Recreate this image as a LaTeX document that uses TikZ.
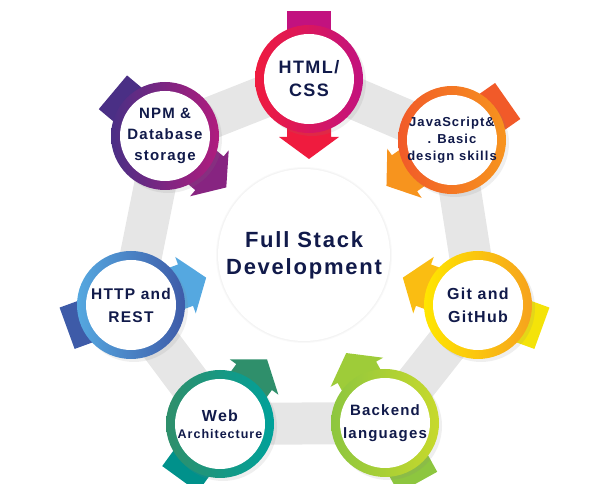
\documentclass[tikz,border=0pt]{standalone}
\usepackage{fontspec}
\setmainfont{Liberation Sans}[LetterSpace=8]
\usepackage{tikz}
\usetikzlibrary{shadows}
\definecolor{navy}{HTML}{111A4A}
\definecolor{band}{HTML}{E6E6E6}
\definecolor{htmlA}{HTML}{EF1B3E}\definecolor{htmlB}{HTML}{C2127F}
\definecolor{jsA}{HTML}{F15A29}\definecolor{jsB}{HTML}{F7941E}
\definecolor{gitA}{HTML}{FFE600}\definecolor{gitB}{HTML}{F6A21E}
\definecolor{backA}{HTML}{8DC63F}\definecolor{backB}{HTML}{C7D92C}
\definecolor{webA}{HTML}{2F8F6B}\definecolor{webB}{HTML}{00A19A}
\definecolor{httpA}{HTML}{55A8E0}\definecolor{httpB}{HTML}{3E5BA8}
\definecolor{npmA}{HTML}{4A2F85}\definecolor{npmB}{HTML}{B01C7E}

\begin{document}
\begin{tikzpicture}[x=1pt, y=1pt,
    sat/.style={circle, minimum size=108pt, inner sep=0pt, align=center, text=navy,
        drop shadow={opacity=0.13, shadow xshift=3pt, shadow yshift=-3pt},
        path picture={\fill[white] (path picture bounding box.center) circle (45pt);}},
    hub/.style={circle, minimum size=172pt, inner sep=0pt, fill=white, align=center, text=navy,
        font=\bfseries\fontsize{22}{27}\selectfont}]
    \useasboundingbox (0,0) rectangle (616,484);
    % positions
    \coordinate (html) at (309,405);
    \coordinate (js) at (452,344);
    \coordinate (git) at (478,179);
    \coordinate (back) at (385,61);
    \coordinate (web) at (220,60);
    \coordinate (http) at (131,179);
    \coordinate (npm) at (165,348);
    \coordinate (mid) at (304,229);
    % grey ring
    \draw[band, line width=42pt, line join=round] (html) -- (js) -- (git) -- (back) -- (web) -- (http) -- (npm) -- cycle;
    % arrows
    \foreach \p/\a/\tl/\hd in {html/270/htmlB/htmlA, js/215/jsA/jsB, git/160/gitA!80!backB/gitB!60!gitA,
        back/119/backA/backA!70!backB, web/54/webB!90!black/webA, http/20/httpB/httpA, npm/-40/npmA/npmB!60!npmA}{
        \begin{scope}[shift={(\p)}, rotate=\a]
            \fill[\tl] (-68,-22) rectangle (0,22);
            \fill[\hd] (0,-22) -- (58,-22) -- (58,-30) -- (80,0) -- (58,30) -- (58,22) -- (0,22) -- cycle;
        \end{scope}
    }
    % soft shadow of the hub
    \foreach \k in {1,...,12}
        \fill[black, opacity=0.022, shift={(5,-6)}] (mid) circle ({76+\k});
    % circles
    \node[hub] (fsd) at (mid) {Full Stack\\Development};
    \node[sat, left color=htmlA, right color=htmlB, font=\bfseries\fontsize{18}{23}\selectfont] (htmlC) at (html) {HTML/\\CSS};
    \node[sat, left color=jsA, right color=jsB, font=\bfseries\fontsize{13}{17}\selectfont] (jsC) at (js) {JavaScript\&\\. Basic\\design skills};
    \node[sat, left color=gitA, right color=gitB, font=\bfseries\fontsize{16}{23}\selectfont] (gitC) at (git) {Git and\\GitHub};
    \node[sat, left color=backA, right color=backB, font=\bfseries\fontsize{15}{23}\selectfont] (backC) at (back) {Backend\\languages};
    \node[sat, left color=webA, right color=webB, font=\bfseries\fontsize{16}{17}\selectfont] (webC) at (web) {Web\\{\fontsize{12.5}{16}\selectfont Architecture}};
    \node[sat, left color=httpA, right color=httpB, font=\bfseries\fontsize{15.5}{23}\selectfont] (httpC) at (http) {HTTP and\\REST};
    \node[sat, left color=npmA, right color=npmB, font=\bfseries\fontsize{15}{21}\selectfont] (npmC) at (npm) {NPM \&\\Database\\storage};
\end{tikzpicture}
\end{document}
